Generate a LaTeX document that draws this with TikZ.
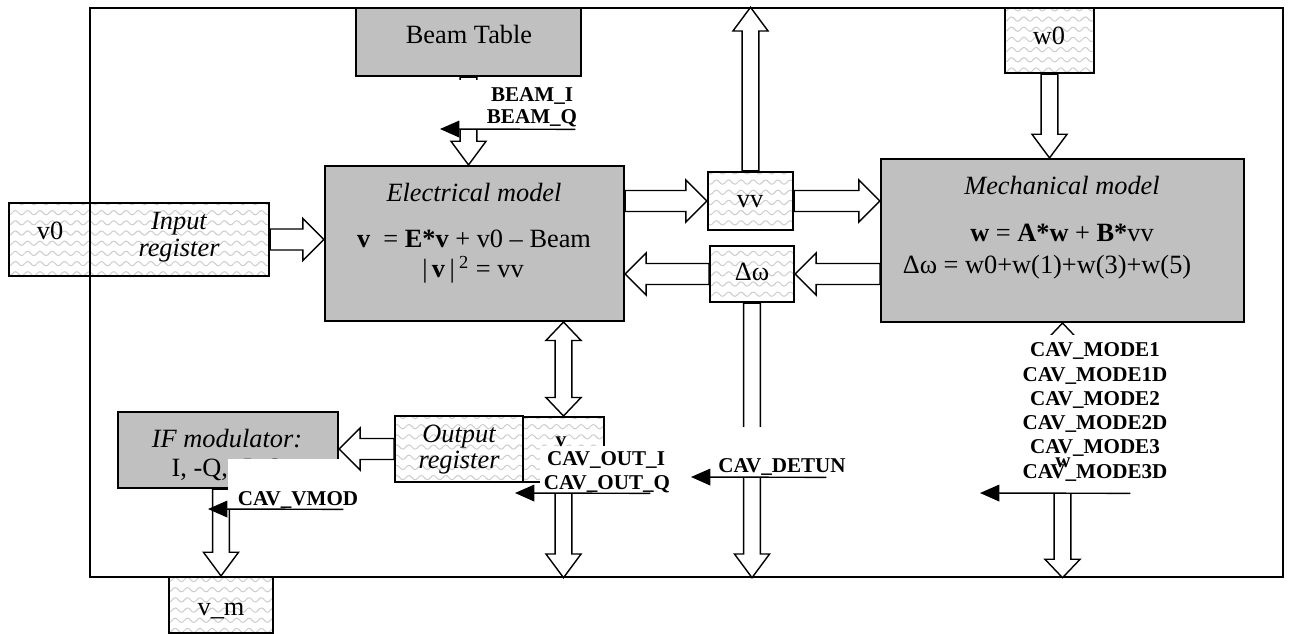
\documentclass[tikz,border=0pt]{standalone}
\usepackage{fontspec}
\setmainfont{Liberation Serif}
\usepackage{tikz}
\usetikzlibrary{arrows.meta,calc,fit,patterns}
\definecolor{boxgrey}{HTML}{C0C0C0}

\pgfdeclarepatternformonly{waves}{\pgfqpoint{-1pt}{-1pt}}{\pgfqpoint{8pt}{6.8pt}}{\pgfqpoint{7pt}{5.8pt}}{%
  \pgfsetlinewidth{0.55pt}%
  \pgfpathmoveto{\pgfqpoint{0pt}{2pt}}%
  \pgfpathcurveto{\pgfqpoint{1.2pt}{3.6pt}}{\pgfqpoint{2.3pt}{3.6pt}}{\pgfqpoint{3.5pt}{2pt}}%
  \pgfpathcurveto{\pgfqpoint{4.7pt}{0.4pt}}{\pgfqpoint{5.8pt}{0.4pt}}{\pgfqpoint{7pt}{2pt}}%
  \pgfusepath{stroke}}

\def\fatS{6}\def\fatW{12}\def\fatH{12}

\begin{document}
\begin{tikzpicture}[x=0.02cm, y=-0.02cm,
  frame/.style={draw, line width=0.8pt, inner sep=0pt},
  greybox/.style={draw, line width=1.2pt, fill=boxgrey, inner sep=0pt},
  wavebox/.style={draw, line width=1.2pt, inner sep=0pt, preaction={fill=white}, pattern=waves, pattern color=black!20},
  txt/.style={anchor=base, inner sep=0pt, font=\fontsize{15}{18}\selectfont},
  itxt/.style={txt, font=\fontsize{15}{18}\selectfont\itshape},
  lbl/.style={anchor=base, fill=white, inner sep=1pt, font=\fontsize{12}{14}\selectfont\bfseries},
  cover/.style={fill=white, inner sep=0pt},
  callout/.style={line width=0.8pt, -{Triangle[length=11pt,width=9.5pt]}},
  wide/.code={\def\fatS{6}\def\fatW{12}\def\fatH{12}},
  slim/.code={\def\fatS{4.8}\def\fatW{10}\def\fatH{13.5}},
  stubby/.code={\def\fatH{10.5}},
  fatarrow/.style={draw, fill=white, line width=0.8pt, to path={
    let \p1=(\tikztostart), \p2=(\tikztotarget),
        \n1={veclen(\x2-\x1,\y2-\y1)}, \n2={(\x2-\x1)/\n1}, \n3={(\y2-\y1)/\n1}
    in ({\x1-\fatS*(\n3)},{\y1+\fatS*(\n2)})
    -- ({\x1+(\n1-\fatH)*(\n2)-\fatS*(\n3)},{\y1+(\n1-\fatH)*(\n3)+\fatS*(\n2)})
    -- ({\x1+(\n1-\fatH)*(\n2)-\fatW*(\n3)},{\y1+(\n1-\fatH)*(\n3)+\fatW*(\n2)})
    -- (\p2)
    -- ({\x1+(\n1-\fatH)*(\n2)+\fatW*(\n3)},{\y1+(\n1-\fatH)*(\n3)-\fatW*(\n2)})
    -- ({\x1+(\n1-\fatH)*(\n2)+\fatS*(\n3)},{\y1+(\n1-\fatH)*(\n3)-\fatS*(\n2)})
    -- ({\x1+\fatS*(\n3)},{\y1-\fatS*(\n2)}) -- cycle}},
  fatboth/.style={draw, fill=white, line width=0.8pt, to path={
    let \p1=(\tikztostart), \p2=(\tikztotarget),
        \n1={veclen(\x2-\x1,\y2-\y1)}, \n2={(\x2-\x1)/\n1}, \n3={(\y2-\y1)/\n1}
    in ({\x1+\fatH*(\n2)-\fatS*(\n3)},{\y1+\fatH*(\n3)+\fatS*(\n2)})
    -- ({\x1+(\n1-\fatH)*(\n2)-\fatS*(\n3)},{\y1+(\n1-\fatH)*(\n3)+\fatS*(\n2)})
    -- ({\x1+(\n1-\fatH)*(\n2)-\fatW*(\n3)},{\y1+(\n1-\fatH)*(\n3)+\fatW*(\n2)})
    -- (\p2)
    -- ({\x1+(\n1-\fatH)*(\n2)+\fatW*(\n3)},{\y1+(\n1-\fatH)*(\n3)-\fatW*(\n2)})
    -- ({\x1+(\n1-\fatH)*(\n2)+\fatS*(\n3)},{\y1+(\n1-\fatH)*(\n3)-\fatS*(\n2)})
    -- ({\x1+\fatH*(\n2)+\fatS*(\n3)},{\y1+\fatH*(\n3)-\fatS*(\n2)})
    -- ({\x1+\fatH*(\n2)+\fatW*(\n3)},{\y1+\fatH*(\n3)-\fatW*(\n2)})
    -- (\p1)
    -- ({\x1+\fatH*(\n2)-\fatW*(\n3)},{\y1+\fatH*(\n3)+\fatW*(\n2)}) -- cycle}}]
\useasboundingbox (0,0) rectangle (1290,634);

\node[frame, fit={(90,8) (1283,577)}] (frame) {};

\node[wavebox, fit={(9,203) (90,276)}] (v0) {};
\node[wavebox, fit={(90,203) (269,276)}] (inreg) {};
\node[greybox, fit={(356,8) (581,76)}] (beam) {};
\node[greybox, fit={(325,166) (624,321)}] (elec) {};
\node[wavebox, fit={(708,172) (793,230)}] (vv) {};
\node[wavebox, fit={(710,246) (794,302)}] (dw) {};
\node[greybox, fit={(881,159) (1244,322)}] (mech) {};
\node[wavebox, fit={(1005,8) (1094,73)}] (w0) {};
\node[greybox, fit={(118,412) (338,488)}] (ifmod) {};
\node[wavebox, fit={(395,416) (523,482)}] (outreg) {};
\node[wavebox, fit={(523,417) (604,482)}] (vbox) {};
\node[wavebox, fit={(169,577) (273,633)}] (vm) {};

\draw[fatarrow, wide] (inreg.east) to (inreg.east -| elec.west);
\draw[fatarrow, wide] (vv.west -| elec.east) to (vv.west);
\draw[fatarrow, wide] (vv.east) to (vv.east -| mech.west);
\draw[fatarrow, wide] (dw.east -| mech.west) to (dw.east);
\draw[fatarrow, wide] (dw.west) to (dw.west -| elec.east);
\draw[fatarrow, wide] (outreg.west) to (outreg.west -| ifmod.east);
\draw[fatarrow, slim] (vv.north) to (vv.north |- frame.north);
\draw[fatarrow, slim] (dw.south) to (dw.south |- frame.south);
\draw[fatarrow, slim] (w0.south) to (w0.south |- mech.north);
\draw[fatarrow, slim] (beam.south) to (beam.south |- elec.north);
\draw[fatarrow, slim] (vbox.south) to (vbox.south |- frame.south);
\draw[fatarrow, slim] (vm.north |- ifmod.south) to (vm.north);
\draw[fatboth, slim, stubby] (vbox.north |- elec.south) to (vbox.north);
\draw[fatboth, slim, stubby] (mech.south) to (mech.south |- frame.south);

\node[txt] (beamtxt) at (469,44) {Beam Table};
\node[txt] (w0txt) at (1049,45) {w0};
\node[txt] (v0txt) at (50,240) {v0};
\node[itxt] (intxt1) at (179,230) {Input};
\node[itxt] (intxt2) at (179,257) {register};
\node[itxt] (eltitle) at (474,202) {Electrical model};
\node[txt] (eleq1) at (474,248) {\textbf{v}\ \ = \textbf{E*v} + v0 -- Beam};
\node[txt] (eleq2) at (473,278) {|\,\textbf{v}\,|\,\textsuperscript{2} = vv};
\node[itxt] (metitle) at (1062,195) {Mechanical model};
\node[txt] (meeq1) at (1062,242) {\textbf{w} = \textbf{A*w} + \textbf{B*}vv};
\node[txt] (meeq2) at (1047,274) {Δω = w0+w(1)+w(3)+w(5)};
\node[txt] (vvtxt) at (750,208) {vv};
\node[txt] (dwtxt) at (752,281) {Δω};
\node[itxt] (outtxt1) at (459,442) {Output};
\node[itxt] (outtxt2) at (459,468) {register};
\node[itxt] (iftxt1) at (227,447) {IF modulator:};
\node[txt] (iftxt2) at (228,476) {I, -Q, -I, Q};
\node[txt] (vmtxt) at (221,615) {v\_m};

\node[cover, fit={(458,80) (575,129)}] (beamcov) {};
\node[lbl] (beami) at (532,102) {BEAM\_I};
\node[lbl] (beamq) at (532,124) {BEAM\_Q};
\coordinate (beamtip) at (440,129);
\draw[callout] (beamcov.south east) -- (beamtip);

\node[cover, fit={(540,446) (650,493)}] (outcov) {};
\node[lbl] (outi) at (606,465) {CAV\_OUT\_I};
\node[lbl] (outq) at (607,489) {CAV\_OUT\_Q};
\coordinate (outtip) at (515,493);
\draw[callout] (outcov.south east) -- (outtip);

\node[cover, fit={(715,427) (826,477)}] (detcov) {};
\node[lbl] (detun) at (782,472) {CAV\_DETUN};
\coordinate (dettip) at (691,477);
\draw[callout] (detcov.south east) -- (dettip);

\node[cover, fit={(228,459) (343,509)}] (vmodcov) {};
\node[lbl] (vmod) at (298,505) {CAV\_VMOD};
\coordinate (vmodtip) at (208,509);
\draw[callout] (vmodcov.south east) -- (vmodtip);

\node[cover, fit={(1020,335) (1130,493)}] (modecov) {};
\foreach \m [count=\i] in {1,1D,2,2D,3,3D}
  \node[lbl] (mode\i) at (1095,{357+24.2*(\i-1)}) {CAV\_MODE\m};
\coordinate (modetip) at (980,493);
\draw[callout] (modecov.south east) -- (modetip);

\node[txt, font=\fontsize{12}{14}\selectfont\bfseries] (vlet) at (561,446) {v};
\node[txt, font=\fontsize{12}{14}\selectfont\bfseries] (wlet) at (1063,467) {w};
\end{tikzpicture}
\end{document}
